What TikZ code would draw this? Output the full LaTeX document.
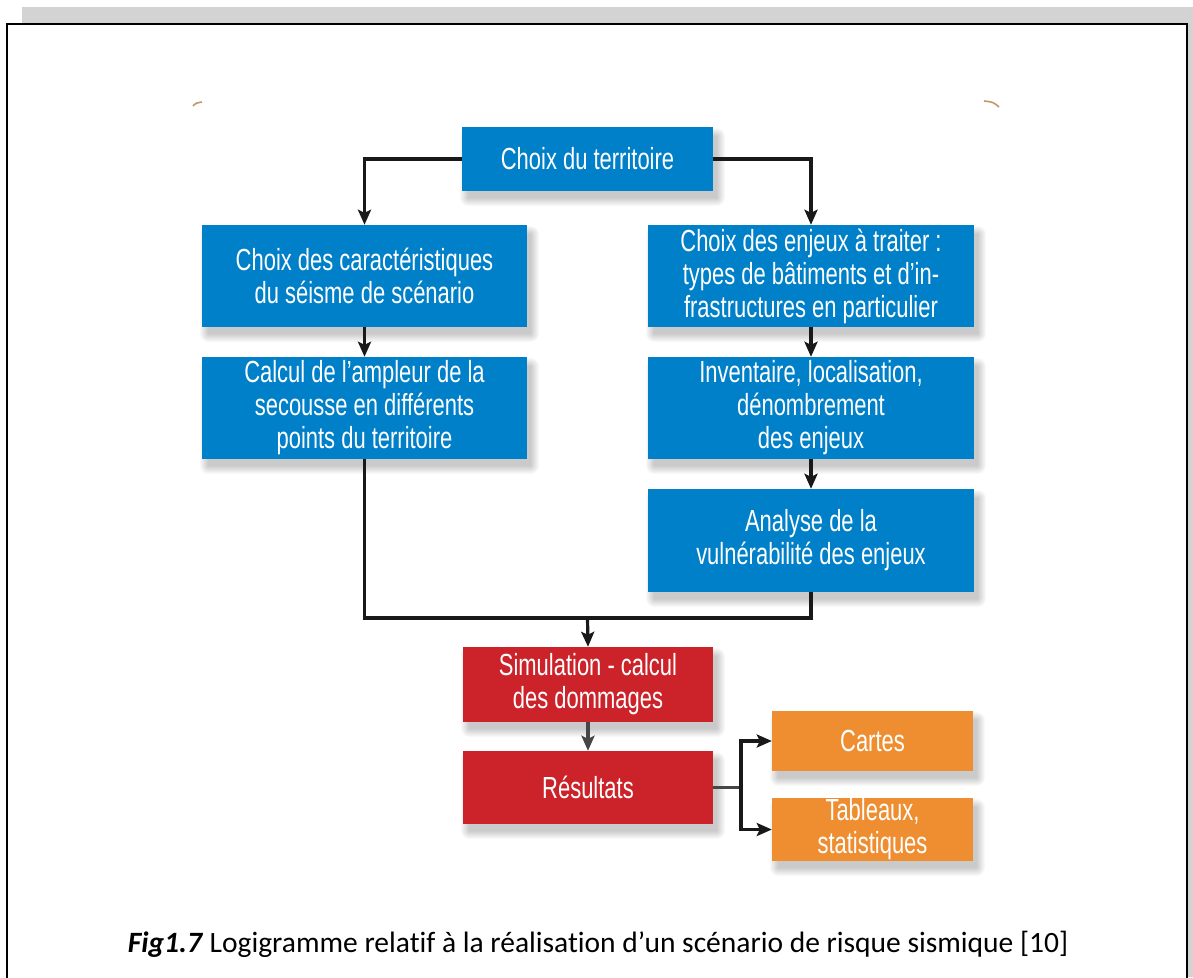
\documentclass[tikz,border=0pt]{standalone}
\usepackage{fontspec}
\setmainfont[Ligatures=NoCommon]{Carlito}
\newfontfamily\condfont[FakeStretch=0.72]{Liberation Sans}
\usetikzlibrary{arrows.meta,backgrounds,calc}

\definecolor{boxblue}{RGB}{0,128,200}
\definecolor{boxred}{RGB}{204,34,41}
\definecolor{boxorange}{RGB}{238,142,48}
\definecolor{bandgray}{RGB}{211,211,211}
\definecolor{cornertan}{RGB}{196,150,105}
\definecolor{linkdark}{RGB}{25,25,25}
\definecolor{linkgray}{RGB}{70,70,70}

\tikzset{
  flowbox/.style={draw=none, text=white, align=center, inner sep=0pt,
    font=\condfont\fontsize{30.5}{33}\selectfont},
  bluebox/.style={flowbox, fill=boxblue},
  redbox/.style={flowbox, fill=boxred},
  orangebox/.style={flowbox, fill=boxorange},
  link/.style={line width=3.2pt, draw=linkdark},
  arr/.style={link, -{Stealth[length=15pt,width=13pt,inset=3pt]}},
  grayarr/.style={arr, draw=linkgray},
}

\begin{document}
\begin{tikzpicture}[x=1pt,y=-1pt]
\useasboundingbox (0,0) rectangle (1193,977);

% boxes
\node[bluebox, minimum width=251pt, minimum height=64pt] (terr) at (587.5,159) {Choix du territoire};
\node[bluebox, minimum width=325pt, minimum height=102pt] (carac) at (364.5,276)
  {Choix des caractéristiques\\du séisme de scénario};
\node[bluebox, minimum width=326pt, minimum height=102pt] (enjeux) at (811,276)
  {Choix des enjeux à traiter :\\types de bâtiments et d’in-\\frastructures en particulier};
\node[bluebox, minimum width=325pt, minimum height=102pt] (calc) at (364.5,408)
  {Calcul de l’ampleur de la\\secousse en différents\\points du territoire};
\node[bluebox, minimum width=326pt, minimum height=102pt] (inv) at (811,408)
  {Inventaire, localisation,\\dénombrement\\des enjeux};
\node[bluebox, minimum width=326pt, minimum height=103pt] (ana) at (811,540.5)
  {Analyse de la\\vulnérabilité des enjeux};
\node[redbox, minimum width=250pt, minimum height=75pt] (sim) at (588,684.5)
  {Simulation - calcul\\des dommages};
\node[redbox, minimum width=250pt, minimum height=73pt] (res) at (588,787.5) {Résultats};
\node[orangebox, minimum width=201pt, minimum height=60pt] (cartes) at (872.5,741) {Cartes};
\node[orangebox, minimum width=201pt, minimum height=63pt] (tab) at (872.5,829.5)
  {Tableaux,\\statistiques};

% page, frame and soft shadows behind the boxes
\begin{scope}[on background layer]
  \fill[white] (0,0) rectangle (1193,977);
  \fill[bandgray] (22,7) rectangle (1193,24);
  \fill[bandgray] (1187,7) rectangle (1193,977);
  \draw[line width=1.6pt] (7,990) -- (7,24) -- (1187,24) -- (1187,990);
  \foreach \n in {terr,carac,enjeux,calc,inv,ana,sim,res,cartes,tab}
    \foreach \k in {1,...,9}
      \fill[black, opacity=0.022, rounded corners=\k pt]
        ($(\n.north west)+(7-\k,10-\k)$) rectangle ($(\n.south east)+(3+\k,6+\k)$);
\end{scope}

% small corner marks of the inset figure
\draw[cornertan, line width=1.6pt] (193,106) .. controls (196,103) .. (202,102);
\draw[cornertan, line width=1.6pt] (984,101) .. controls (993,102) .. (999,107);

% connectors
\coordinate (merge) at (587.5,618);
\coordinate (fork) at (741,787.5);
\draw[arr] (terr.west) -| (carac.north);
\draw[arr] (terr.east) -| (enjeux.north);
\draw[arr] (carac.south) -- (calc.north);
\draw[arr] (enjeux.south) -- (inv.north);
\draw[arr] (inv.south) -- (ana.north);
\draw[link] (calc.south) |- (merge) -| (ana.south);
\draw[arr] (merge) -- (sim.north);
\draw[grayarr] (sim.south) -- (res.north);
\draw[link, draw=linkgray] (res.east) -- (fork);
\draw[arr] (fork) |- (cartes.west);
\draw[arr] (fork) |- (tab.west);

% caption
\node[anchor=base, inner sep=0pt, font=\fontsize{29.5}{35}\selectfont] (cap) at (598,952)
  {\textbf{\textit{Fig1.7}} Logigramme relatif à la réalisation d’un scénario de risque sismique [10]};
\end{tikzpicture}
\end{document}
